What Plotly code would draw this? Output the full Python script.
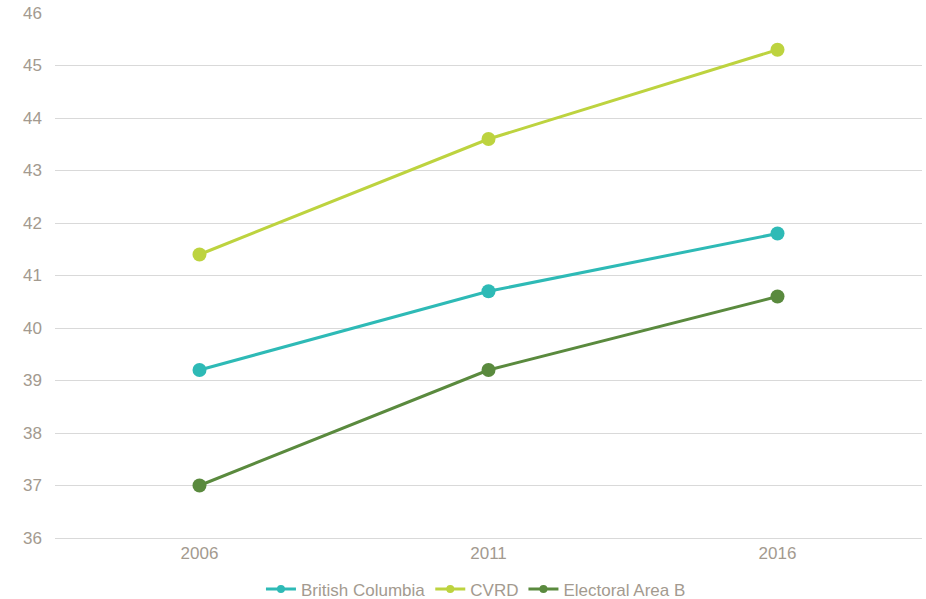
import plotly.graph_objects as go

years = ["2006", "2011", "2016"]
british_columbia = [39.2, 40.7, 41.8]
cvrd = [41.4, 43.6, 45.3]
electoral_area_b = [37.0, 39.2, 40.6]

series = [
    ("British Columbia", british_columbia, "#2EBAB6"),
    ("CVRD", cvrd, "#BDD33F"),
    ("Electoral Area B", electoral_area_b, "#5A8A3E"),
]

text_color = "#A39A8F"
fig = go.Figure()
for name, vals, color in series:
    fig.add_trace(go.Scatter(
        x=years, y=vals, name=name, mode="lines+markers", legendgroup=name,
        line=dict(color=color, width=3),
        marker=dict(color=color, size=14),
        showlegend=False,
    ))
    # legend entry with a smaller marker swatch
    fig.add_trace(go.Scatter(
        x=[None], y=[None], name=name, mode="lines+markers", legendgroup=name,
        line=dict(color=color, width=3),
        marker=dict(color=color, size=8),
        showlegend=True,
    ))

fig.update_layout(
    width=926, height=599,
    margin=dict(l=55, r=4, t=13, b=61, autoexpand=False),
    paper_bgcolor="white", plot_bgcolor="white",
    font=dict(family="Liberation Sans, Arial, sans-serif", size=17, color=text_color),
    showlegend=True,
    legend=dict(orientation="h", x=0.514, xanchor="center", xref="container",
                y=0.016, yanchor="middle", yref="container",
                font=dict(size=17, color=text_color),
                itemwidth=30, tracegroupgap=0),
    xaxis=dict(type="category", range=[-0.5, 2.5], showgrid=False, zeroline=False,
               showline=True, linecolor="#D9D9D9", linewidth=1, ticks="",
               tickfont=dict(size=17, color=text_color)),
    yaxis=dict(range=[36, 46], dtick=1, showgrid=True, gridcolor="#D9D9D9", gridwidth=1,
               zeroline=False, showline=False, ticks="", ticklabelstandoff=12,
               tickfont=dict(size=17, color=text_color)),
)

fig.write_html("out.html")
